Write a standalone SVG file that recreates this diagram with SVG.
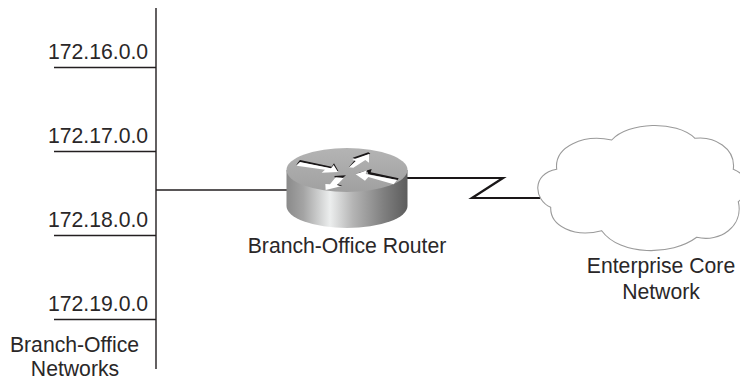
<svg xmlns="http://www.w3.org/2000/svg" width="740" height="381" viewBox="0 0 740 381">
<style>
text{font-family:"Liberation Sans",Arial,sans-serif;font-size:21.200px;fill:#2a2728}
.l{stroke:#231f20;stroke-width:1.400;fill:none}
.k{fill:#1a1718}
.w{fill:#fff}
</style>
<defs>
<linearGradient id="side" x1="0" x2="1" y1="0" y2="0">
<stop offset="0" stop-color="#8a8a8a"/>
<stop offset="0.14" stop-color="#a4a4a4"/>
<stop offset="0.36" stop-color="#eceeee"/>
<stop offset="0.55" stop-color="#b4b4b4"/>
<stop offset="0.8" stop-color="#808080"/>
<stop offset="1" stop-color="#5c5c5c"/>
</linearGradient>
<linearGradient id="top" x1="0" x2="0" y1="0" y2="1">
<stop offset="0" stop-color="#b4b4b4"/>
<stop offset="1" stop-color="#a0a0a0"/>
</linearGradient>
</defs>
<g id="connectors">
<path class="l" d="M156 8V369M54 67.500H156M54 151.500H156M54 235.500H156M54 319.500H156M156 190H288"/>
<path d="M407 178H503L472 198H540" fill="none" stroke="#1a1718" stroke-width="2.200"/>
</g>
<g id="labels-networks">
<text x="48" y="59">172.16.0.0</text>
<text x="48" y="143">172.17.0.0</text>
<text x="48" y="227">172.18.0.0</text>
<text x="48" y="311">172.19.0.0</text>
<text x="74.500" y="352" text-anchor="middle">Branch-Office</text>
<text x="75" y="376" text-anchor="middle">Networks</text>
</g>
<g id="router">
<path d="M286.500 170V206A60.500 22 0 0 0 407.500 206V170Z" fill="url(#side)"/>
<ellipse cx="347" cy="170" rx="60.500" ry="22" fill="url(#top)"/>
<g transform="translate(285 145) scale(.3333)">
<path class="k" d="M33 60L45 45L140 65L147 55L160 78L150 80L135 70L45 52Z"/>
<path class="w" d="M35 62L45 51L138 70L146 60L159 81L110 83L120 74Z"/>
<path class="k" d="M192 66L212 42L203 38L250 22L256 26L210 44L218 48L198 66Z"/>
<path class="w" d="M192 67L212 48L202 44L252 27L252 53L241 45L205 68Z"/>
<path class="k" d="M213 86L260 72L257 82L341 100L338 105L250 88L248 80Z"/>
<path class="w" d="M212 88L246 76L242 87L336 105L326 118L250 96L240 107Z"/>
<path class="k" d="M148 93L183 91L165 106L158 118L172 122L160 124L150 118L170 98L150 98Z"/>
<path class="w" d="M122 135L121 117L135 118L152 97L176 99L156 120L168 124Z"/>
</g>
<text x="347" y="253" text-anchor="middle">Branch-Office Router</text>
</g>
<g id="cloud">
<path d="M611.700 140C628 122 676 120 695 138.300C714 136 736 148 733.300 169.300C750 176 750 192 738.300 201.700C744 226 720 243 696.700 237.300C672 256 620 256 601.700 230.700C574 238 550 226 550.700 207.300C534 200 531 174 556.700 169.300C554 146 584 134 611.700 140Z" fill="#fff" stroke="#9a9a9a" stroke-width="1.100"/>
<text x="661" y="273" text-anchor="middle">Enterprise Core</text>
<text x="661" y="299" text-anchor="middle">Network</text>
</g>
</svg>
